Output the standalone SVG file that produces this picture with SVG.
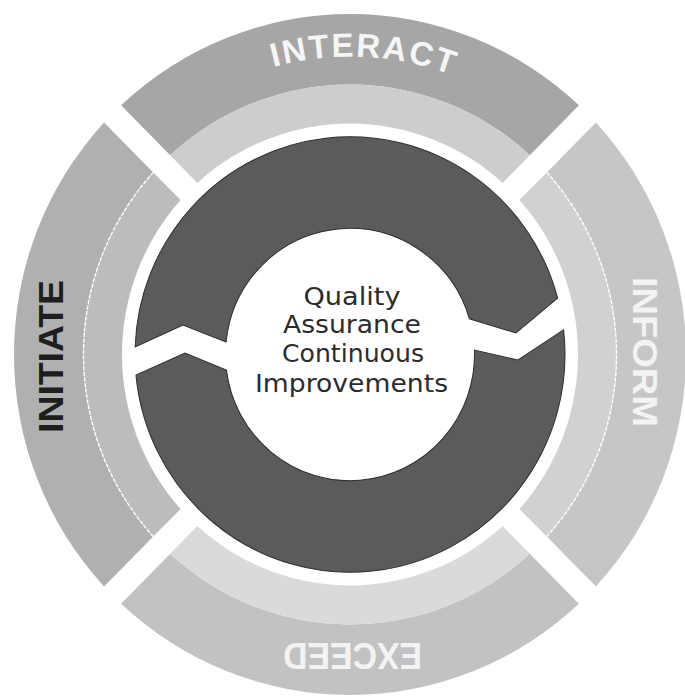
<svg xmlns="http://www.w3.org/2000/svg" xmlns:xlink="http://www.w3.org/1999/xlink" width="685" height="696" viewBox="0 0 685 696">
  <style>
    .lbl { font-family: "Liberation Sans", Arial, sans-serif; font-weight: bold; }
    .ctr { font-family: "DejaVu Sans", "Liberation Sans", sans-serif; font-size: 25px; fill: #2c2c2c; text-anchor: middle; }
    .div { fill: none; stroke: #ffffff; stroke-width: 1.4; stroke-dasharray: 4 1.5; }
    .dark { fill: #5b5b5b; stroke: #2e2e2e; stroke-width: 1; }
  </style>
  <defs>
    <path id="outerBand" d="M -228.94 -245.94 A 336 336 0 0 1 228.94 -245.94 L 179.77 -196.74 A 266.5 266.5 0 0 0 -179.77 -196.74 Z"/>
    <path id="innerBand" d="M -179.77 -196.74 A 266.5 266.5 0 0 1 179.77 -196.74 L 152.61 -169.39 A 228 228 0 0 0 -152.61 -169.39 Z"/>
    <path id="divider" d="M -179.77 -196.74 A 266.5 266.5 0 0 1 179.77 -196.74"/>
    <path id="interactArc" d="M -215.96 -199.49 A 294 294 0 0 1 233.97 -178.04"/>
  </defs>
  <rect width="685" height="696" fill="#ffffff"/>

  <g id="interact" transform="translate(350 354.5) scale(1 1.013)">
    <use xlink:href="#outerBand" fill="#a6a6a6"/>
    <use xlink:href="#innerBand" fill="#cdcdcd"/>
    <text class="lbl" font-size="33" fill="#f5f5f5" letter-spacing="2" text-anchor="middle"><textPath xlink:href="#interactArc" startOffset="50%">INTERACT</textPath></text>
  </g>

  <g id="inform" transform="translate(350 354.5) scale(1 1.013)">
    <use xlink:href="#outerBand" fill="#c6c6c6" transform="rotate(90)"/>
    <use xlink:href="#innerBand" fill="#d1d1d1" transform="rotate(90)"/>
    <use xlink:href="#divider" class="div" transform="rotate(90)"/>
    <text class="lbl" font-size="36" fill="#f3f3f3" text-anchor="middle" transform="translate(283 -2.5) rotate(90)" textLength="148" lengthAdjust="spacingAndGlyphs">INFORM</text>
  </g>

  <g id="exceed" transform="translate(350 354.5) scale(1 1.013)">
    <use xlink:href="#outerBand" fill="#c2c2c2" transform="rotate(180)"/>
    <use xlink:href="#innerBand" fill="#dadada" transform="rotate(180)"/>
    <text class="lbl" font-size="36" fill="#f3f3f3" text-anchor="middle" transform="translate(2.5 284.8) rotate(180)" textLength="139" lengthAdjust="spacingAndGlyphs">EXCEED</text>
  </g>

  <g id="initiate" transform="translate(350 354.5) scale(1 1.013)">
    <use xlink:href="#outerBand" fill="#b0b0b0" transform="rotate(270)"/>
    <use xlink:href="#innerBand" fill="#bcbcbc" transform="rotate(270)"/>
    <use xlink:href="#divider" class="div" transform="rotate(270)"/>
    <text class="lbl" font-size="36" fill="#1e1e1e" text-anchor="middle" transform="translate(-287 2) rotate(-90)" textLength="151" lengthAdjust="spacingAndGlyphs">INITIATE</text>
  </g>

  <g id="cycle" transform="translate(350 354.5) scale(1 1.013)">
    <path class="dark" d="M -214.87 -7.39 A 215 215 0 0 1 207.65 -55.71 L 166 -21.2 L 119.42 -35.24 A 124.5 124.5 0 0 0 -123.88 -12.39 L -167 -29.1 Z"/>
    <path class="dark" d="M 213.63 -24.26 A 215 215 0 1 1 -214.03 20.38 L -165 -1.5 L -123.55 15.37 A 124.5 124.5 0 0 0 124.42 -4.41 L 168 5.4 Z"/>
  </g>

  <g id="center">
    <text class="ctr" x="352" y="304.5" textLength="97" lengthAdjust="spacingAndGlyphs">Quality</text>
    <text class="ctr" x="352" y="333" textLength="138" lengthAdjust="spacingAndGlyphs">Assurance</text>
    <text class="ctr" x="353" y="362" textLength="142" lengthAdjust="spacingAndGlyphs">Continuous</text>
    <text class="ctr" x="351.5" y="391.5" textLength="193" lengthAdjust="spacingAndGlyphs">Improvements</text>
  </g>
</svg>
